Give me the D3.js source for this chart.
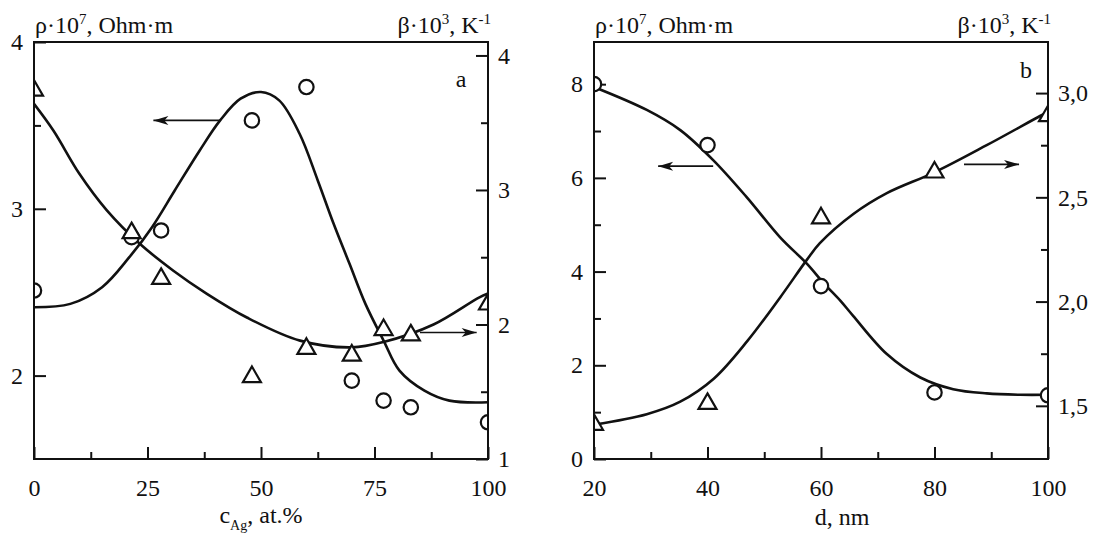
<!DOCTYPE html>
<html>
<head>
<meta charset="utf-8">
<title>Resistivity and TCR vs composition and thickness</title>
<script src="https://cdn.jsdelivr.net/npm/d3@7"></script>
<style>
  body { margin: 0; background: #fff; }
  text { font-family: "Liberation Serif", "Times New Roman", serif; fill: #111; }
</style>
</head>
<body>
<script>
// ---- panel a: vs Ag content ----
var cAg   = [0, 21.5, 28, 48, 60, 70, 77, 83, 100];
var rhoA  = [2.51, 2.83, 2.87, 3.53, 3.73, 1.97, 1.85, 1.81, 1.72];
var betaA = [3.74, 2.68, 2.34, 1.61, 1.82, 1.77, 1.96, 1.92, 2.15];

// fitted curves
var rhoFitAx  = [0, 8, 15, 21, 26, 31, 36.5, 41, 45.5, 50, 54, 58.5, 62.5, 66, 69.5, 73, 77, 80.5, 86, 91.5, 100];
var rhoFitAy  = [2.41, 2.43, 2.53, 2.71, 2.89, 3.11, 3.35, 3.53, 3.66, 3.70, 3.65, 3.45, 3.17, 2.91, 2.67, 2.43, 2.21, 2.03, 1.91, 1.85, 1.84];
var betaFitAx = [0, 4.3, 10, 16, 23.3, 30.7, 38, 47, 58.6, 70, 77, 88, 98, 100];
var betaFitAy = [3.64, 3.44, 3.12, 2.85, 2.60, 2.40, 2.23, 2.05, 1.88, 1.83, 1.87, 2.0, 2.20, 2.23];

// ---- panel b: vs thickness ----
var dNm   = [20, 40, 60, 80, 100];
var rhoB  = [8.0, 6.70, 3.69, 1.42, 1.36];
var betaB = [1.41, 1.51, 2.40, 2.62, 2.89];

var rhoFitBx  = [20, 29.3, 35.2, 41, 46.9, 52.8, 57.5, 60.5, 63.4, 65.7, 71.6, 77.5, 83.3, 89.2, 95.1, 100];
var rhoFitBy  = [7.94, 7.45, 7.02, 6.38, 5.59, 4.73, 4.17, 3.75, 3.38, 3.05, 2.24, 1.74, 1.49, 1.40, 1.37, 1.37];
var betaFitBx = [20, 29.3, 35.2, 41.1, 47, 52.8, 57.5, 59.8, 65.7, 71.6, 80, 89.2, 98.6, 100];
var betaFitBy = [1.41, 1.46, 1.52, 1.63, 1.81, 2.02, 2.20, 2.28, 2.42, 2.52, 2.62, 2.75, 2.89, 2.91];

// arrows: [x from, x to, value, axis]
var arrowsA = [[41, 26.3, 3.53, "left"], [85, 97.5, 1.94, "right"]];
var arrowsB = [[41, 31.3, 6.25, "left"], [85.2, 94.9, 2.658, "right"]];

var W = 1099, H = 535;
var plotTop = 42, plotBottom = 459;

var svg = d3.select("body").append("svg")
    .attr("width", W)
    .attr("height", H);

var defs = svg.append("defs");
defs.append("marker")
    .attr("id", "head")
    .attr("viewBox", "-16 -6 18 12")
    .attr("refX", 0).attr("refY", 0)
    .attr("markerWidth", 18).attr("markerHeight", 12)
    .attr("markerUnits", "userSpaceOnUse")
    .attr("orient", "auto")
  .append("path")
    .attr("d", "M0,0L-15,-4.5L-11,0L-15,4.5Z")
    .attr("fill", "#111");

var commaFmt = function(d) { return d3.format(".1f")(d).replace(".", ","); };

var panels = [
  {
    id: "a", left: 34, right: 488,
    xDomain: [0, 100], lDomain: [1.5, 4], rDomain: [1, 4.1],
    xMajor: [0, 25, 50, 75, 100], xMinor: [12.5, 37.5, 62.5, 87.5],
    lMajor: [2, 3, 4], lMinor: [2.5, 3.5],
    rMajor: [1, 2, 3, 4], rMinor: [1.5, 2.5, 3.5],
    rFmt: d3.format("d"),
    x: cAg, rho: rhoA, beta: betaA,
    rhoFit: [rhoFitAx, rhoFitAy], betaFit: [betaFitAx, betaFitAy],
    arrows: arrowsA, letterX: 461, letterY: 87,
    xTitle: "c_Ag", titleX: 261
  },
  {
    id: "b", left: 594, right: 1048,
    xDomain: [20, 100], lDomain: [0, 8.9], rDomain: [1.245, 3.245],
    xMajor: [20, 40, 60, 80, 100], xMinor: [30, 50, 70, 90],
    lMajor: [0, 2, 4, 6, 8], lMinor: [1, 3, 5, 7],
    rMajor: [1.5, 2.0, 2.5, 3.0], rMinor: [1.75, 2.25, 2.75],
    rFmt: commaFmt,
    x: dNm, rho: rhoB, beta: betaB,
    rhoFit: [rhoFitBx, rhoFitBy], betaFit: [betaFitBx, betaFitBy],
    arrows: arrowsB, letterX: 1026, letterY: 78,
    xTitle: "d", titleX: 842
  }
];

panels.forEach(drawPanel);

function drawPanel(p) {
    var x = d3.scaleLinear().domain(p.xDomain).range([p.left, p.right]);
    var yL = d3.scaleLinear().domain(p.lDomain).range([plotBottom, plotTop]);
    var yR = d3.scaleLinear().domain(p.rDomain).range([plotBottom, plotTop]);
    var g = svg.append("g");

    defs.append("clipPath").attr("id", "clip-" + p.id)
      .append("rect")
        .attr("x", p.left).attr("y", plotTop)
        .attr("width", p.right - p.left).attr("height", plotBottom - plotTop);

    // axes with inward ticks
    function axis(gen, scale, vals, size, pad, fmt, tx, ty) {
        var a = g.append("g")
            .attr("transform", "translate(" + tx + "," + ty + ")")
            .call(gen(scale).tickValues(vals).tickSizeInner(-size).tickSizeOuter(0)
                .tickPadding(pad).tickFormat(fmt || ""));
        a.select(".domain").remove();
        a.selectAll("line").attr("stroke", "#111").attr("stroke-width", 2);
        a.selectAll("text").attr("font-size", 24).attr("fill", "#111")
            .style("font-family", "'Liberation Serif', serif");
        return a;
    }
    axis(d3.axisBottom, x, p.xMajor, 12, 20, d3.format("d"), 0, plotBottom);
    axis(d3.axisBottom, x, p.xMinor, 7, 0, null, 0, plotBottom);
    axis(d3.axisLeft, yL, p.lMajor, 12, 11, d3.format("d"), p.left, 0);
    axis(d3.axisLeft, yL, p.lMinor, 7, 0, null, p.left, 0);
    axis(d3.axisRight, yR, p.rMajor, 12, 10, p.rFmt, p.right, 0);
    axis(d3.axisRight, yR, p.rMinor, 7, 0, null, p.right, 0);

    var plot = g.append("g").attr("clip-path", "url(#clip-" + p.id + ")");

    var lineL = d3.line().curve(d3.curveCatmullRom.alpha(0.5))
        .x(function(d) { return x(d[0]); }).y(function(d) { return yL(d[1]); });
    var lineR = d3.line().curve(d3.curveCatmullRom.alpha(0.5))
        .x(function(d) { return x(d[0]); }).y(function(d) { return yR(d[1]); });

    plot.append("path")
        .attr("d", lineL(d3.zip(p.rhoFit[0], p.rhoFit[1])))
        .attr("fill", "none").attr("stroke", "#111").attr("stroke-width", 2.6);
    plot.append("path")
        .attr("d", lineR(d3.zip(p.betaFit[0], p.betaFit[1])))
        .attr("fill", "none").attr("stroke", "#111").attr("stroke-width", 2.6);

    plot.selectAll("circle.rho")
        .data(d3.zip(p.x, p.rho))
      .enter().append("circle")
        .attr("class", "rho")
        .attr("cx", function(d) { return x(d[0]); })
        .attr("cy", function(d) { return yL(d[1]); })
        .attr("r", 7.2)
        .attr("fill", "#fff").attr("stroke", "#111").attr("stroke-width", 2.2);

    var tri = d3.symbol().type(d3.symbolTriangle).size(140);
    plot.selectAll("path.beta")
        .data(d3.zip(p.x, p.beta))
      .enter().append("path")
        .attr("class", "beta")
        .attr("d", tri)
        .attr("transform", function(d) { return "translate(" + x(d[0]) + "," + yR(d[1]) + ")"; })
        .attr("fill", "#fff").attr("stroke", "#111").attr("stroke-width", 2.2);

    // arrows pointing to the axis a curve belongs to
    g.selectAll("line.arrow")
        .data(p.arrows)
      .enter().append("line")
        .attr("class", "arrow")
        .attr("x1", function(d) { return x(d[0]); })
        .attr("x2", function(d) { return x(d[1]); })
        .attr("y1", function(d) { return (d[3] === "left" ? yL : yR)(d[2]); })
        .attr("y2", function(d) { return (d[3] === "left" ? yL : yR)(d[2]); })
        .attr("stroke", "#111").attr("stroke-width", 1.6)
        .attr("marker-end", "url(#head)");

    // frame
    g.append("rect")
        .attr("x", p.left).attr("y", plotTop)
        .attr("width", p.right - p.left).attr("height", plotBottom - plotTop)
        .attr("fill", "none").attr("stroke", "#111").attr("stroke-width", 2);

    // axis titles
    var rhoT = g.append("text").attr("x", p.left + 1).attr("y", 33).attr("font-size", 24);
    rhoT.append("tspan").text("ρ·10");
    rhoT.append("tspan").attr("dy", -9).attr("font-size", 15).text("7");
    rhoT.append("tspan").attr("dy", 9).text(", Ohm·m");

    var betaT = g.append("text").attr("x", p.right + 3).attr("y", 33)
        .attr("font-size", 24).attr("text-anchor", "end");
    betaT.append("tspan").text("β·10");
    betaT.append("tspan").attr("dy", -9).attr("font-size", 15).text("3");
    betaT.append("tspan").attr("dy", 9).text(", K");
    betaT.append("tspan").attr("dy", -9).attr("font-size", 15).text("-1");

    var xT = g.append("text").attr("x", p.titleX).attr("y", 523)
        .attr("font-size", 24).attr("text-anchor", "middle");
    if (p.xTitle === "c_Ag") {
        xT.append("tspan").text("c");
        xT.append("tspan").attr("dy", 7).attr("font-size", 14).text("Ag");
        xT.append("tspan").attr("dy", -7).text(", at.%");
    } else {
        xT.attr("y", 525).text("d, nm");
    }

    g.append("text")
        .attr("x", p.letterX).attr("y", p.letterY)
        .attr("font-size", 24).attr("text-anchor", "middle")
        .text(p.id);
}
</script>
</body>
</html>
